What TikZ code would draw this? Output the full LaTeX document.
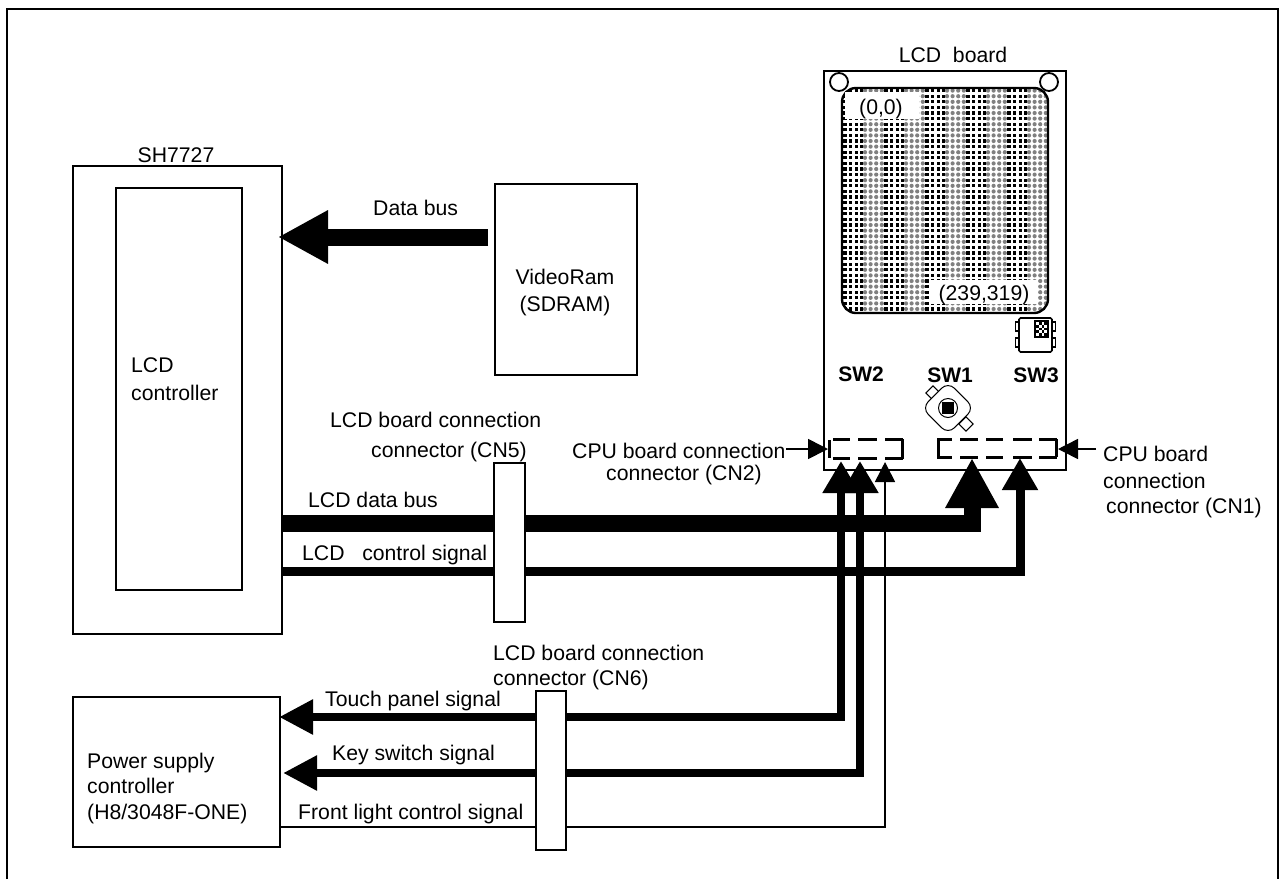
\documentclass[tikz,border=0pt]{standalone}
\usepackage{fontspec}
\setmainfont{Liberation Sans}
\usetikzlibrary{arrows.meta}
\tikzset{
  box/.style={draw, line width=1.7pt, fill=white, anchor=north west, inner sep=0pt},
  txt/.style={anchor=west, inner sep=0pt, text height=19pt, text depth=4pt, font=\fontsize{21.2}{25}\selectfont},
  mid/.style={txt, anchor=center},
  swlabel/.style={mid, font=\fontsize{21}{25}\selectfont\bfseries},
  bigbus/.style={line width=17pt, -{Triangle[length=50pt,width=50pt]}},
  bus/.style={line width=9pt, -{Triangle[length=32pt,width=34pt]}},
  twobus/.style={line width=8.5pt, {Triangle[length=34pt,width=33pt]}-{Triangle[length=32pt,width=35pt]}},
  thinbus/.style={line width=1.6pt, -{Triangle[length=20pt,width=20pt]}},
  hint/.style={line width=1.6pt, -{Triangle[length=20pt,width=20pt]}},
  cnseg/.style={line width=3pt}
}
\begin{document}
\begin{tikzpicture}[x=1pt, y=-1pt]
    \useasboundingbox (0,0) rectangle (1279,879);
    \draw[line width=1.7pt] (7,879) -- (7,9) -- (1278,9) -- (1278,879);

    % left blocks
    \node[box, minimum width=209pt, minimum height=468pt] (sh) at (72,165) {};
    \node[box, minimum width=126pt, minimum height=402pt] (lcdc) at (115,187) {};
    \node[box, minimum width=142pt, minimum height=191pt] (vram) at (494,183) {};
    \node[box, minimum width=207pt, minimum height=150pt] (power) at (72,696) {};
    \node[mid] (shname) at (176,155) {SH7727};
    \node[txt] (lcdcA) at (131,365) {LCD};
    \node[txt] (lcdcB) at (131,393) {controller};
    \node[mid] (vramA) at (565,277) {VideoRam};
    \node[mid] (vramB) at (565,304) {(SDRAM)};
    \node[txt] (powerA) at (87,760.5) {Power supply};
    \node[txt] (powerB) at (87,785.5) {controller};
    \node[txt] (powerC) at (87,811.5) {(H8/3048F-ONE)};

    % LCD board
    \node[box, minimum width=242pt, minimum height=399pt] (board) at (823,70) {};
    \node[mid] (boardname) at (953,54.5) {LCD\ \ board};
    \begin{scope}
        \clip[rounded corners=14pt] (842,88) rectangle (1048,313);
        \foreach \k in {0,...,5} {
            \foreach \i in {0,...,3} {
                \foreach \j in {0,...,41} {
                    \fill[black] (845+41*\k+5.6*\i-1.6,85+5.6*\j-1.6) rectangle +(3.2,3.2);
                    \fill[black!50] (865+41*\k+5.6*\i,85+5.6*\j) circle (2.1pt);
                }
            }
        }
    \end{scope}
    \draw[line width=2.4pt, rounded corners=14pt] (842,88) rectangle (1048,313);
    \node[draw, circle, fill=white, line width=1.8pt, minimum size=18pt, inner sep=0pt] (holeA) at (839,82) {};
    \node[draw, circle, fill=white, line width=1.8pt, minimum size=18pt, inner sep=0pt] (holeB) at (1049,82) {};
    \node[fill=white, minimum width=74pt, minimum height=27pt, inner sep=0pt] (orgA) at (882,105) {};
    \node[fill=white, minimum width=108pt, minimum height=24pt, inner sep=0pt] (orgB) at (984,292) {};
    \node[mid] (orgAtxt) at (881,106.5) {(0,0)};
    \node[mid] (orgBtxt) at (984,293) {(239,319)};

    % SW3
    \foreach \y in {322,338} {
        \draw[line width=1.3pt, fill=white] (1015.5,\y) rectangle (1020,\y+9);
        \draw[line width=1.3pt, fill=white] (1051,\y) rectangle (1055.5,\y+9);
    }
    \draw[line width=1.7pt, fill=white, rounded corners=1.5pt] (1019,318) rectangle (1052,352);
    \fill[black] (1034,320) rectangle (1049,338);
    \foreach \i in {0,...,3} {
        \foreach \j in {0,...,4} {
            \pgfmathparse{int(mod(\i+\j,2))}
            \ifnum\pgfmathresult=0
                \fill[white] (1036+2.8*\i,322+2.8*\j) rectangle +(2.8,2.8);
            \fi
        }
    }
    % SW1
    \node[draw, fill=white, line width=1pt, rotate=45, minimum size=10pt, inner sep=0pt] (tabA) at (933,393) {};
    \node[draw, fill=white, line width=1pt, rotate=45, minimum size=10pt, inner sep=0pt] (tabB) at (966,424) {};
    \node[draw, fill=white, line width=1pt, rotate=45, rounded corners=9pt, minimum size=37pt, inner sep=0pt] (knob) at (948,408) {};
    \node[draw, circle, line width=1pt, minimum size=19pt, inner sep=0pt] (knobring) at (948,408) {};
    \node[fill=black, minimum size=12pt, inner sep=0pt] (knobcore) at (948,408) {};
    \node[swlabel] (swtwo) at (861,374) {SW2};
    \node[swlabel] (swone) at (950,375) {SW1};
    \node[swlabel] (swthree) at (1036,375) {SW3};

    % board connectors
    \draw[cnseg] (829,440) -- (829,458);
    \foreach \a/\b in {833/850,858/877,885/903} {
        \draw[cnseg] (\a,439) -- (\b,439);
        \draw[cnseg] (\a,458.5) -- (\b,458.5);
    }
    \draw[cnseg] (902.7,439) -- (902.7,458.5);
    \foreach \a/\b in {937/952,960/978,986/1003,1013/1032,1039/1057} {
        \draw[cnseg] (\a,439) -- (\b,439);
        \draw[cnseg] (\a,457) -- (\b,457);
    }
    \draw[cnseg] (938,439) -- (938,457);
    \draw[cnseg] (1056.5,439) -- (1056.5,457);

    % signal ends
    \coordinate (dataS) at (488,237);
    \coordinate (dataT) at (278,237);
    \coordinate (lcdS) at (281,523.5);
    \coordinate (lcdT) at (972,458);
    \coordinate (ctlS) at (281,571.5);
    \coordinate (ctlT) at (1020,458);
    \coordinate (touchL) at (279,717);
    \coordinate (touchT) at (841,461);
    \coordinate (keyL) at (283,773);
    \coordinate (keyT) at (860,461);
    \coordinate (lightL) at (279,827);
    \coordinate (lightT) at (885,462);
    \coordinate (cntwoS) at (786,449);
    \coordinate (cntwoT) at (828,449);
    \coordinate (cnoneS) at (1096,449);
    \coordinate (cnoneT) at (1058,449);

    \draw[bigbus] (dataS) -- (dataT);
    \draw[bigbus] (lcdS) -| (lcdT);
    \draw[bus] (ctlS) -| (ctlT);
    \draw[twobus] (touchL) -| (touchT);
    \draw[twobus] (keyL) -| (keyT);
    \draw[thinbus] (lightL) -| (lightT);
    \draw[hint] (cntwoS) -- (cntwoT);
    \draw[hint] (cnoneS) -- (cnoneT);

    % relay connectors
    \node[box, minimum width=31pt, minimum height=159pt] (cnfive) at (493,462) {};
    \node[box, minimum width=30pt, minimum height=159pt] (cnsix) at (535,690) {};

    \node[txt] (dataname) at (373,207.5) {Data bus};
    \node[txt] (cnfiveA) at (330,420) {LCD board connection};
    \node[txt] (cnfiveB) at (371,450) {connector (CN5)};
    \node[txt] (cntwoA) at (572,451) {CPU board connection};
    \node[txt] (cntwoB) at (606,472.5) {connector (CN2)};
    \node[txt] (cnoneA) at (1103,453.5) {CPU board};
    \node[txt] (cnoneB) at (1103,480.5) {connection};
    \node[txt] (cnoneC) at (1106,505.5) {connector (CN1)};
    \node[txt] (lcdname) at (308,500) {LCD data bus};
    \node[txt] (ctlname) at (302,553) {LCD\ \ \ control signal};
    \node[txt] (cnsixA) at (493,652.5) {LCD board connection};
    \node[txt] (cnsixB) at (493,677.5) {connector (CN6)};
    \node[txt] (touchname) at (325,699) {Touch panel signal};
    \node[txt] (keyname) at (332,753) {Key switch signal};
    \node[txt] (lightname) at (298,811.5) {Front light control signal};
\end{tikzpicture}
\end{document}
